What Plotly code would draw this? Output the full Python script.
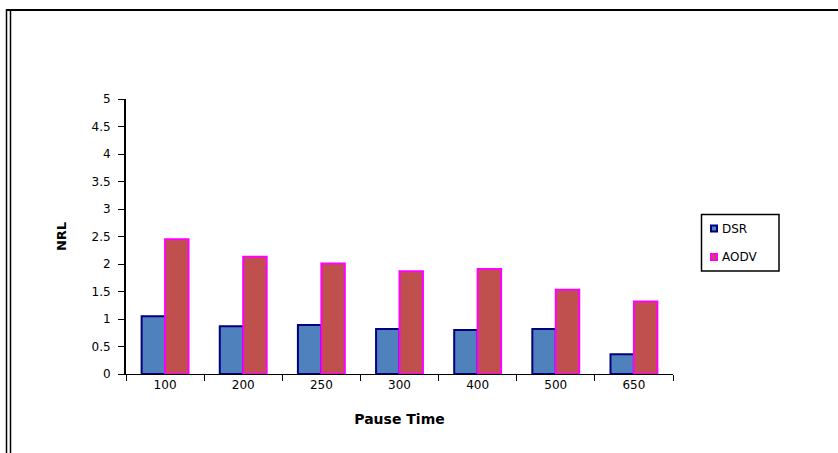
import plotly.graph_objects as go

pause_times = ["100", "200", "250", "300", "400", "500", "650"]
dsr = [1.05, 0.87, 0.89, 0.82, 0.80, 0.82, 0.36]
aodv = [2.45, 2.13, 2.01, 1.87, 1.91, 1.53, 1.32]
series_names = ["DSR", "AODV"]
fill_colors = ["#4F81BD", "#C0504D"]
edge_colors = ["#000080", "#FF00FF"]
y_ticks = [0, 0.5, 1, 1.5, 2, 2.5, 3, 3.5, 4, 4.5, 5]
y_tick_text = ["0", "0.5", "1", "1.5", "2", "2.5", "3", "3.5", "4", "4.5", "5"]

W, H = 838, 453
L, R, T, B = 126, 673, 99, 374  # plot area in pixels


def px(x):
    return (x - L) / (R - L)


def py(y):
    return (B - y) / (B - T)


FONT = "DejaVu Sans, Arial, sans-serif"

fig = go.Figure()
for name, vals, fc, ec in zip(series_names, [dsr, aodv], fill_colors, edge_colors):
    fig.add_trace(go.Bar(
        x=pause_times, y=vals, name=name,
        marker=dict(color=fc, line=dict(color=ec, width=2)),
    ))

shapes = [
    # outer frame
    dict(type="line", xref="paper", yref="paper", x0=px(6), x1=px(838), y0=py(10), y1=py(10),
         line=dict(color="black", width=2)),
    dict(type="line", xref="paper", yref="paper", x0=px(6.5), x1=px(6.5), y0=py(9), y1=py(453),
         line=dict(color="black", width=1.5)),
    dict(type="line", xref="paper", yref="paper", x0=px(10.5), x1=px(10.5), y0=py(10), y1=py(453),
         line=dict(color="black", width=1.5)),
    # legend box
    dict(type="rect", xref="paper", yref="paper", x0=px(701.5), x1=px(779), y0=py(214.5), y1=py(271),
         line=dict(color="black", width=1.5), fillcolor="white"),
]
annotations = []
legend_y = [228.5, 257]
for name, fc, ec, ly in zip(series_names, fill_colors, edge_colors, legend_y):
    shapes.append(dict(type="rect", xref="paper", yref="paper",
                       x0=px(711), x1=px(717), y0=py(ly - 3), y1=py(ly + 3),
                       line=dict(color=ec, width=2), fillcolor=fc))
    annotations.append(dict(xref="paper", yref="paper", x=px(720), y=py(ly), text=name,
                            showarrow=False, xanchor="left", yanchor="middle",
                            font=dict(family=FONT, size=12, color="black")))

fig.update_layout(
    width=W, height=H,
    margin=dict(l=L, r=W - R, t=T, b=H - B, pad=0),
    paper_bgcolor="white", plot_bgcolor="white",
    font=dict(family=FONT, size=12, color="black"),
    barmode="group", bargap=0.4, bargroupgap=0,
    showlegend=False,
    shapes=shapes,
    annotations=annotations,
    xaxis=dict(
        type="category", showline=True, linecolor="black", linewidth=1,
        ticks="outside", ticklen=6, tickcolor="black", tickson="boundaries",
        showgrid=False, zeroline=False,
        title=dict(text="<b>Pause Time</b>", font=dict(family=FONT, size=14), standoff=22),
    ),
    yaxis=dict(
        range=[0, 5], tickvals=y_ticks, ticktext=y_tick_text,
        showline=True, linecolor="black", linewidth=2,
        ticks="outside", ticklen=6, tickcolor="black",
        showgrid=False, zeroline=False, ticklabelstandoff=5,
        title=dict(text="<b>NRL</b>", font=dict(family=FONT, size=13), standoff=22),
    ),
)

fig.write_html("out.html", config={"displayModeBar": False},
               post_script="document.body.style.margin='0';")
